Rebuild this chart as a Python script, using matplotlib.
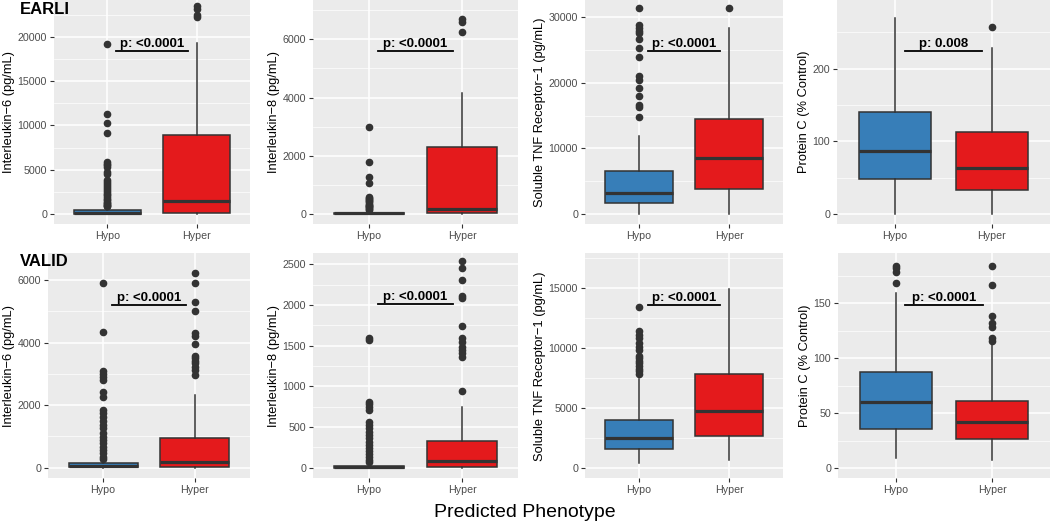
import matplotlib.pyplot as plt
from matplotlib.ticker import MultipleLocator

plt.rcParams["font.family"] = ["Liberation Sans", "DejaVu Sans"]

groups = ["Hypo", "Hyper"]
group_colors = ["#377EB8", "#E41A1C"]
cohorts = ["EARLI", "VALID"]
y_labels = [
    "Interleukin\u22126 (pg/mL)",
    "Interleukin\u22128 (pg/mL)",
    "Soluble TNF Receptor\u22121 (pg/mL)",
    "Protein C (% Control)",
]

# box stats: [lower whisker, q1, median, q3, upper whisker]
earli_il6_hypo = [0, 20, 110, 450, 800]
earli_il6_hyper = [0, 150, 1470, 8930, 19360]
earli_il8_hypo = [0, 5, 20, 50, 120]
earli_il8_hyper = [0, 20, 160, 2300, 4150]
earli_tnfr_hypo = [0, 1630, 3250, 6560, 11900]
earli_tnfr_hyper = [0, 3810, 8590, 14440, 28320]
earli_protc_hypo = [0, 47.7, 86.7, 140.8, 269.3]
earli_protc_hyper = [0, 33, 62.8, 113.3, 228.9]

valid_il6_hypo = [0, 10, 50, 139, 224]
valid_il6_hyper = [0, 11, 192, 959, 2323]
valid_il8_hypo = [0, 2, 10, 25, 55]
valid_il8_hyper = [0, 12, 82, 328, 750]
valid_tnfr_hypo = [472, 1611, 2556, 4028, 7417]
valid_tnfr_hyper = [694, 2694, 4806, 7860, 14920]
valid_protc_hypo = [9.1, 36.1, 60.6, 87.6, 159.7]
valid_protc_hyper = [7.6, 27.0, 42.1, 61.5, 112.1]

# outliers
earli_il6_hypo_out = [19200, 11300, 10300, 9200, 5900, 5700, 5500, 5300, 4800, 4500,
                      3800, 3600, 3400, 3200, 2900, 2700, 2500, 2300, 2100, 1900,
                      1700, 1550, 1400, 1250, 1100, 1000, 900, 850]
earli_il6_hyper_out = [22300, 22500, 23200, 23500]
earli_il8_hypo_out = [3000, 1800, 1270, 1050, 600, 560, 520, 480, 440, 400, 360,
                      320, 290, 260, 230, 200, 175, 150]
earli_il8_hyper_out = [6240, 6600, 6700]
earli_tnfr_hypo_out = [31370, 28830, 28320, 27965, 27660, 26640, 25370, 23900,
                       21050, 20440, 19270, 18050, 16575, 16270, 14850]
earli_tnfr_hyper_out = [31370]
earli_protc_hypo_out = []
earli_protc_hyper_out = [257.8]

valid_il6_hypo_out = [5893, 4348, 3101, 2995, 2909, 2803, 2430, 2270, 1844, 1737,
                      1630, 1503, 1364, 1258, 1098, 991, 885, 778, 671, 565, 458,
                      352, 266]
valid_il6_hyper_out = [6234, 5915, 5307, 5019, 4316, 4209, 3954, 3570, 3495, 3410,
                       3336, 3229, 3122, 2963]
valid_il8_hypo_out = [1598, 1570, 811, 783, 750, 709, 565, 525, 484, 443, 400, 360,
                      320, 280, 240, 200, 165, 135, 100, 75]
valid_il8_hyper_out = [2541, 2451, 2307, 2110, 2090, 1742, 1590, 1549, 1488, 1447,
                       1406, 1365, 943]
valid_tnfr_hypo_out = [13470, 11440, 11110, 10830, 10420, 10060, 9860, 9360, 9150,
                       8950, 8750, 8500, 8300, 8100, 7860]
valid_tnfr_hyper_out = []
valid_protc_hypo_out = [183.9, 181.8, 178.8, 168.8]
valid_protc_hyper_out = [183.9, 166.3, 138.8, 131.8, 128.2, 118.2, 116.0]

# significance labels and bar heights
earli_pvals = ["p: <0.0001", "p: <0.0001", "p: <0.0001", "p: 0.008"]
earli_bar_y = [18420, 5600, 24860, 224]
valid_pvals = ["p: <0.0001", "p: <0.0001", "p: <0.0001", "p: <0.0001"]
valid_bar_y = [5200, 2009, 13600, 148.5]

earli_stats = [
    (earli_il6_hypo, earli_il6_hyper, earli_il6_hypo_out, earli_il6_hyper_out),
    (earli_il8_hypo, earli_il8_hyper, earli_il8_hypo_out, earli_il8_hyper_out),
    (earli_tnfr_hypo, earli_tnfr_hyper, earli_tnfr_hypo_out, earli_tnfr_hyper_out),
    (earli_protc_hypo, earli_protc_hyper, earli_protc_hypo_out, earli_protc_hyper_out),
]
valid_stats = [
    (valid_il6_hypo, valid_il6_hyper, valid_il6_hypo_out, valid_il6_hyper_out),
    (valid_il8_hypo, valid_il8_hyper, valid_il8_hypo_out, valid_il8_hyper_out),
    (valid_tnfr_hypo, valid_tnfr_hyper, valid_tnfr_hypo_out, valid_tnfr_hyper_out),
    (valid_protc_hypo, valid_protc_hyper, valid_protc_hypo_out, valid_protc_hyper_out),
]

# layout (pixels) and axis scales
W, H = 1050, 523
top_cols = [(54, 250), (313, 518), (585, 783), (837, 1050)]
bottom_cols = [(48, 250), (313, 518), (585, 783), (838, 1050)]
top_rows = (0, 224)
bottom_rows = (253.3, 478.3)
earli_ylims = [(-1130, 24180), (-343, 7350), (-1525, 32640), (-13.8, 294.5)]
valid_ylims = [(-340, 6854), (-130, 2636), (-830, 17900), (-9.1, 195.5)]
earli_steps = [5000, 2000, 10000, 100]
valid_steps = [2000, 500, 5000, 50]


def draw_panel(ax, stats, pval, bar_y, ylim, step, ylabel):
    hypo, hyper, hypo_out, hyper_out = stats
    boxes = []
    for s, out in [(hypo, hypo_out), (hyper, hyper_out)]:
        boxes.append({
            "whislo": s[0], "q1": s[1], "med": s[2], "q3": s[3], "whishi": s[4],
            "fliers": out,
        })
    bp = ax.bxp(
        boxes, positions=[1, 2], widths=0.75, patch_artist=True, showcaps=False,
        boxprops=dict(edgecolor="#333333", linewidth=1.1),
        whiskerprops=dict(color="#333333", linewidth=1.1),
        medianprops=dict(color="#333333", linewidth=2.3, solid_capstyle="butt"),
        flierprops=dict(marker="o", markerfacecolor="#333333",
                        markeredgecolor="#333333", markersize=4.5),
        zorder=3,
    )
    for patch, color in zip(bp["boxes"], group_colors):
        patch.set_facecolor(color)

    ax.plot([1.1, 1.9], [bar_y, bar_y], color="black", linewidth=1.3, zorder=4)
    ax.annotate(pval, xy=(1.5, bar_y), xytext=(0, 3), textcoords="offset points",
                ha="center", va="baseline", fontsize=9.5, fontweight="bold",
                zorder=5)

    ax.set_xlim(0.4, 2.6)
    ax.set_ylim(*ylim)
    ax.set_xticks([1, 2])
    ax.set_xticklabels(groups)
    ax.yaxis.set_major_locator(MultipleLocator(step))
    ax.yaxis.set_minor_locator(MultipleLocator(step / 2))
    ax.set_facecolor("#EBEBEB")
    ax.grid(which="major", color="white", linewidth=1.1, zorder=0)
    ax.grid(which="minor", axis="y", color="white", linewidth=0.5, zorder=0)
    ax.set_axisbelow(True)
    for spine in ax.spines.values():
        spine.set_visible(False)
    ax.tick_params(which="major", color="#333333", length=3, width=0.8,
                   labelcolor="#4D4D4D", labelsize=7.7, pad=2)
    ax.tick_params(which="minor", length=0)
    ax.set_ylabel(ylabel, fontsize=9.3, labelpad=2)


fig = plt.figure(figsize=(10.5, 5.23), dpi=100)

rows = [
    (top_rows, top_cols, earli_stats, earli_pvals, earli_bar_y, earli_ylims, earli_steps),
    (bottom_rows, bottom_cols, valid_stats, valid_pvals, valid_bar_y, valid_ylims, valid_steps),
]
for (r0, r1), cols, stats, pvals, bars, ylims, steps in rows:
    for i, (c0, c1) in enumerate(cols):
        ax = fig.add_axes([c0 / W, 1 - r1 / H, (c1 - c0) / W, (r1 - r0) / H])
        draw_panel(ax, stats[i], pvals[i], bars[i], ylims[i], steps[i], y_labels[i])

fig.text(20 / W, 1 - 14 / H, cohorts[0], fontsize=12, fontweight="bold",
         ha="left", va="baseline")
fig.text(20 / W, 1 - 266 / H, cohorts[1], fontsize=12, fontweight="bold",
         ha="left", va="baseline")
fig.text(525 / W, 1 - 517 / H, "Predicted Phenotype", fontsize=14,
         ha="center", va="baseline")

fig.savefig("out.png", dpi=100)
